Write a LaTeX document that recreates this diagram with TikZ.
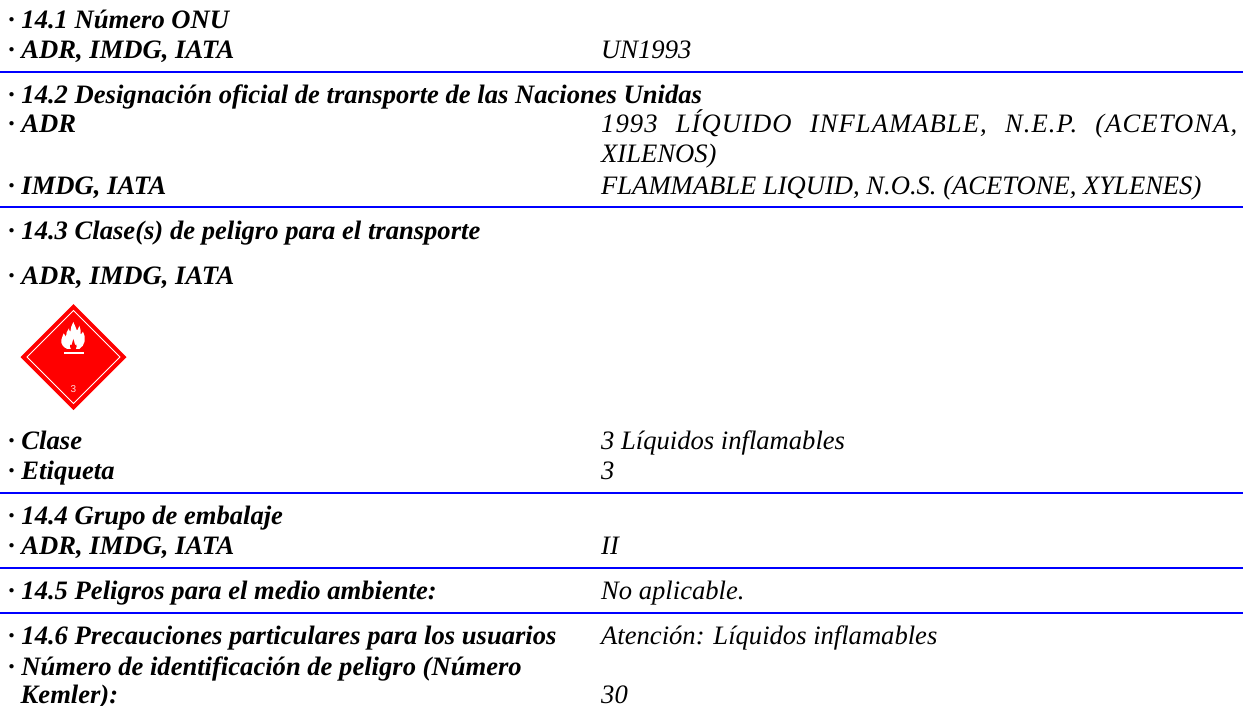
\documentclass[tikz,border=0pt]{standalone}
\usepackage{fontspec}
\setmainfont{Liberation Serif}
\newfontfamily\labelsans{Liberation Sans}
\definecolor{rulecol}{RGB}{0,0,255}
\definecolor{hazred}{RGB}{255,0,0}
\tikzset{
 lab/.style={anchor=base west,inner sep=0pt,font=\fontsize{26.6}{30}\selectfont\bfseries\itshape},
 val/.style={anchor=base west,inner sep=0pt,font=\fontsize{26.6}{30}\selectfont\itshape},
 sepline/.style={draw=rulecol,line width=1.6pt}
}
\begin{document}
\begin{tikzpicture}[x=1pt,y=-1pt]
\useasboundingbox[fill=white] (0,0) rectangle (1243,706);
\def\lx{8}\def\vx{601}
\node[lab] (a1) at (\lx,29) {· 14.1 Número ONU};
\node[lab] (a2) at (\lx,59) {· ADR, IMDG, IATA};
\node[val] (b2) at (\vx,59) {UN1993};
\draw[sepline] (0,72) -- (1243,72);
\node[lab] (a3) at (\lx,104) {· 14.2 Designación oficial de transporte de las Naciones Unidas};
\node[lab] (a4) at (\lx,133) {· ADR};
\node[val] (b4) at (\vx,133) {\addfontfeature{LetterSpace=4}\makebox[636pt][s]{1993 LÍQUIDO INFLAMABLE, N.E.P. (ACETONA,}};
\node[val] (b5) at (\vx,163) {XILENOS)};
\node[lab] (a6) at (\lx,194) {· IMDG, IATA};
\node[val] (b6) at (\vx,194) {FLAMMABLE LIQUID, N.O.S. (ACETONE, XYLENES)};
\draw[sepline] (0,207) -- (1243,207);
\node[lab] (a7) at (\lx,239) {· 14.3 Clase(s) de peligro para el transporte};
\node[lab] (a8) at (\lx,284) {· ADR, IMDG, IATA};
% hazard diamond
\fill[hazred] (73.5,304) -- (126.5,357) -- (73.5,410) -- (20.5,357) -- cycle;
\draw[white,line width=1pt] (73.5,310.5) -- (120,357) -- (73.5,403.5) -- (27,357) -- cycle;
\begin{scope}[shift={(40,310)},x=0.3333pt,y=-0.3333pt]
\fill[white] (82,117) .. controls (70,112) and (62,102) .. (64,90)
  .. controls (65,82) and (69,78) .. (71,70)
  .. controls (74,74) and (76,78) .. (78,80)
  .. controls (78,70) and (81,62) .. (87,55)
  .. controls (87,60) and (88,63) .. (91,65)
  .. controls (92,54) and (95,45) .. (100,36)
  .. controls (103,45) and (109,54) .. (111,62)
  .. controls (114,58) and (116,53) .. (118,47)
  .. controls (122,56) and (123,66) .. (122,74)
  .. controls (125,72) and (127,69) .. (129,65)
  .. controls (133,74) and (137,84) .. (134,94)
  .. controls (132,104) and (126,112) .. (118,117) -- cycle;
\fill[hazred] (93,117) .. controls (90,112) and (89,108) .. (91,104)
  .. controls (92,106) and (94,106) .. (95,105)
  .. controls (97,99) and (98,93) .. (100,87)
  .. controls (102,93) and (104,99) .. (105,105)
  .. controls (107,106) and (108,106) .. (109,104)
  .. controls (111,108) and (110,112) .. (107,117) -- cycle;
\fill[white] (72,126) rectangle (132,133);
\end{scope}
\node[inner sep=0pt,text=white!85!hazred,font=\labelsans\fontsize{10}{10}\selectfont] (hz) at (73.5,389) {3};
\node[lab] (a9) at (\lx,449) {· Clase};
\node[val] (b9) at (\vx,449) {3 Líquidos inflamables};
\node[lab] (a10) at (\lx,479) {· Etiqueta};
\node[val] (b10) at (\vx,479) {3};
\draw[sepline] (0,493) -- (1243,493);
\node[lab] (a11) at (\lx,524) {· 14.4 Grupo de embalaje};
\node[lab] (a12) at (\lx,554) {· ADR, IMDG, IATA};
\node[val] (b12) at (\vx,554) {II};
\draw[sepline] (0,568) -- (1243,568);
\node[lab] (a13) at (\lx,599) {· 14.5 Peligros para el medio ambiente:};
\node[val] (b13) at (\vx,599) {No aplicable.};
\draw[sepline] (0,613) -- (1243,613);
\node[lab] (a14) at (\lx,644) {· 14.6 Precauciones particulares para los usuarios};
\node[val] (b14) at (\vx,644) {Atención: Líquidos inflamables};
\node[lab] (a15) at (\lx,675) {· Número de identificación de peligro (Número};
\node[lab] (a16) at (20.5,703) {Kemler):};
\node[val] (b16) at (\vx,703) {30};
\end{tikzpicture}
\end{document}
